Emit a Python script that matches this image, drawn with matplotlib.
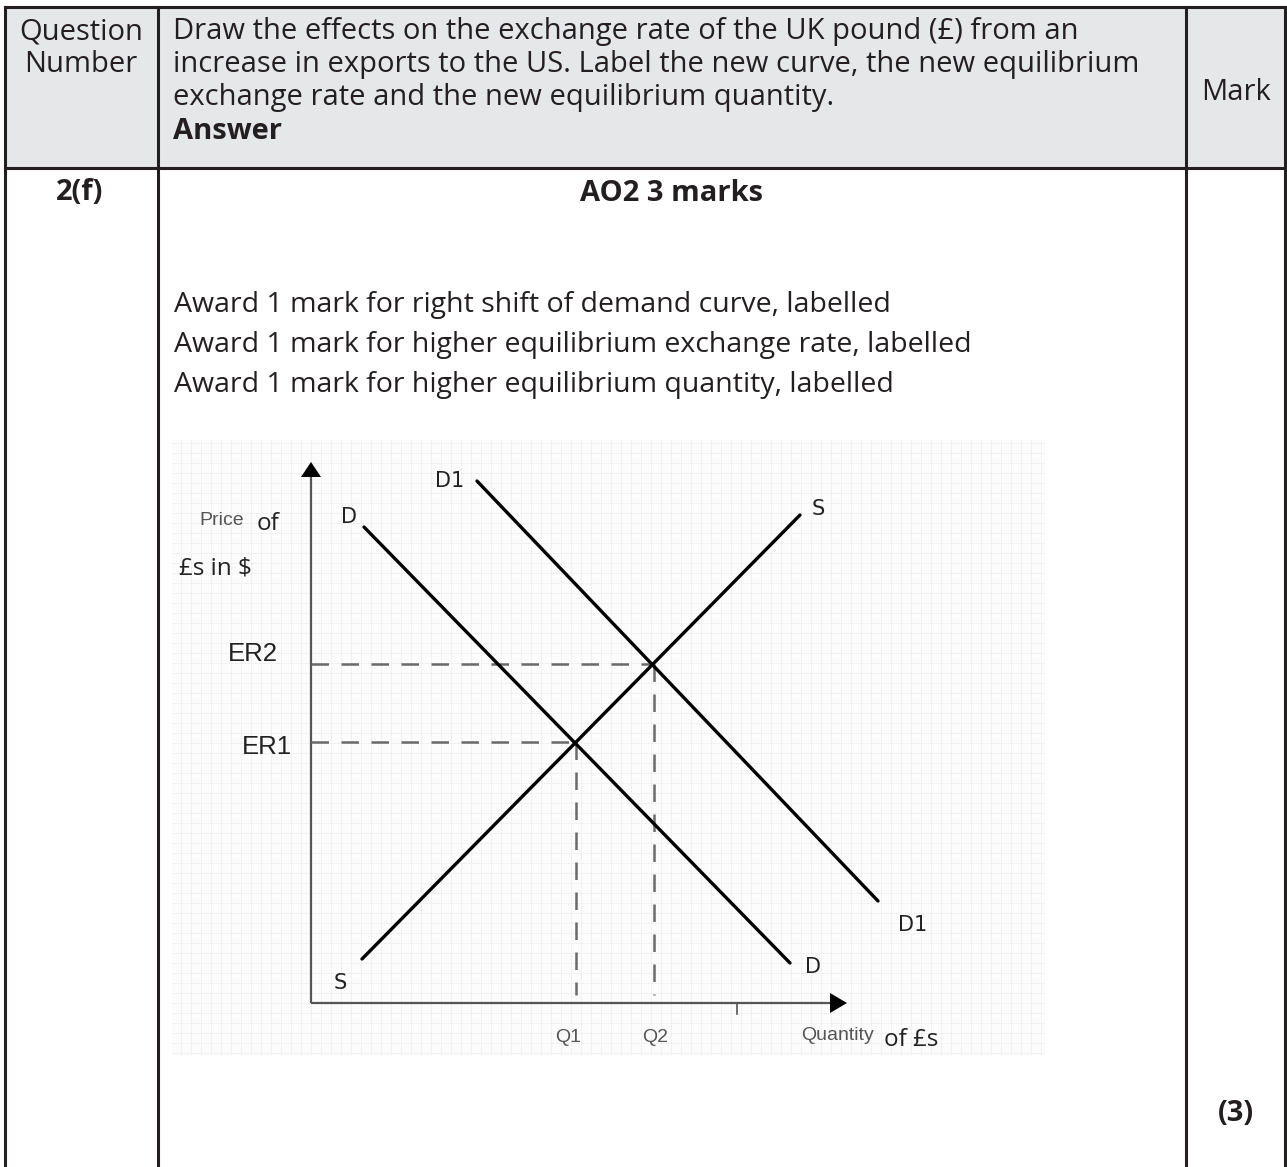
import matplotlib
matplotlib.use("Agg")
import matplotlib.pyplot as plt
import numpy as np

# ---------------- data ----------------
header_left = ["Question", "Number"]
header_text = ["Draw the effects on the exchange rate of the UK pound (£) from an",
               "increase in exports to the US. Label the new curve, the new equilibrium",
               "exchange rate and the new equilibrium quantity."]
header_answer = "Answer"
header_mark = "Mark"
question_no = "2(f)"
ao_title = "AO2 3 marks"
award_lines = ["Award 1 mark for right shift of demand curve, labelled",
               "Award 1 mark for higher equilibrium exchange rate, labelled",
               "Award 1 mark for higher equilibrium quantity, labelled"]
mark_value = "(3)"

# diagram values (quantity, price)
D_x = [5.3, 47.9]
D_y = [47.6, 4.0]
D1_x = [16.6, 56.7]
D1_y = [52.2, 10.2]
S_x = [5.1, 48.9]
S_y = [4.4, 48.8]
Q1, ER1 = 26.5, 26.1
Q2, ER2 = 34.3, 33.9
x_axis_end = 53.6
y_axis_end = 54.1
x_tick = 42.6

W, H = 1287, 1167
fig = plt.figure(figsize=(W / 100, H / 100), dpi=100)
fig.patch.set_facecolor("white")

# ---------------- table (pixel space) ----------------
ax = fig.add_axes([0, 0, 1, 1])
ax.set_xlim(0, W)
ax.set_ylim(H, 0)
ax.axis("off")

ink = "#231f20"
ax.add_patch(plt.Rectangle((5, 7), 1280, 161, facecolor="#e6e7e9", edgecolor="none", zorder=0))
lw = 2.2
ax.plot([5, 1285], [7, 7], color=ink, lw=lw)
ax.plot([5, 1285], [168, 168], color=ink, lw=lw)
for xv in [5, 158, 1186, 1285]:
    ax.plot([xv, xv], [7, H + 5], color=ink, lw=lw)

fam = ["Open Sans", "DejaVu Sans"]
hkw = dict(family=fam, color=ink, fontsize=21)
akw = dict(family=fam, color=ink, fontsize=20.5)
bkw = dict(family=fam, color=ink, fontsize=21, fontweight="bold")
for i, t in enumerate(header_left):
    ax.text(81, 39 + 33 * i, t, ha="center", va="baseline", **hkw)
for i, t in enumerate(header_text):
    ax.text(173, 39 + 33 * i, t, ha="left", va="baseline", **hkw)
ax.text(173, 139, header_answer, ha="left", va="baseline", **bkw)
ax.text(1236, 100, header_mark, ha="center", va="baseline", **hkw)
ax.text(80, 200, question_no, ha="center", va="baseline", **bkw)
ax.text(672, 201, ao_title, ha="center", va="baseline", **bkw)
for i, t in enumerate(award_lines):
    ax.text(174, 312 + 40 * i, t, ha="left", va="baseline", **akw)
ax.text(1236, 1121, mark_value, ha="center", va="baseline", **bkw)

# ---------------- diagram ----------------
ox, oy, sc = 311, 1003, 10.0
bx0, bx1, by0, by1 = 172, 1045, 440, 1055
def px2d(px, py):
    return (px - ox) / sc, (oy - py) / sc

dax = fig.add_axes([bx0 / W, (H - by1) / H, (bx1 - bx0) / W, (by1 - by0) / H])
x0, ytop = px2d(bx0, by0)
x1, ybot = px2d(bx1, by1)
dax.set_xlim(x0, x1)
dax.set_ylim(ybot, ytop)
dax.set_facecolor("#fcfcfc")
for s in dax.spines.values():
    s.set_visible(False)
dax.set_xticks(np.arange(np.ceil(x0), x1, 1.0))
dax.set_yticks(np.arange(np.ceil(ybot), ytop, 1.0))
dax.tick_params(length=0, labelbottom=False, labelleft=False)
dax.grid(True, color="#f0f0f0", lw=0.6)
dax.set_axisbelow(True)

axis_col = "#555555"
# axes
dax.plot([0, 0], [0, y_axis_end - 1.5], color=axis_col, lw=1.6, solid_capstyle="butt")
dax.plot([0, x_axis_end - 1.7], [0, 0], color=axis_col, lw=1.6, solid_capstyle="butt")
dax.fill([-1.0, 1.0, 0], [y_axis_end - 1.5, y_axis_end - 1.5, y_axis_end], color="black", lw=0)
dax.fill([x_axis_end - 1.7, x_axis_end - 1.7, x_axis_end], [1.0, -1.0, 0], color="black", lw=0)
dax.plot([x_tick, x_tick], [0, -1.1], color=axis_col, lw=1.2)

# dashed guides
dash = dict(color="#6a6a6a", lw=1.8, dashes=(7, 5))
dax.plot([0, Q1], [ER1, ER1], **dash)
dax.plot([Q1, Q1], [ER1, 0.8], **dash)
dax.plot([0, Q2], [ER2, ER2], **dash)
dax.plot([Q2, Q2], [ER2, 0.8], **dash)

# curves
dax.plot(D_x, D_y, color="black", lw=2.4, solid_capstyle="round")
dax.plot(D1_x, D1_y, color="black", lw=2.4, solid_capstyle="round")
dax.plot(S_x, S_y, color="black", lw=2.4, solid_capstyle="round")

lab_dj = dict(family="DejaVu Sans", color="#222222", fontsize=15, ha="center", va="center")
dax.text(*px2d(349, 517), "D", **lab_dj)
dax.text(*px2d(450, 481), "D1", **lab_dj)
dax.text(*px2d(818, 509), "S", **lab_dj)
dax.text(*px2d(340, 983), "S", **lab_dj)
dax.text(*px2d(813, 967), "D", **lab_dj)
dax.text(*px2d(913, 925), "D1", **lab_dj)

lab_ar = dict(family="Liberation Sans", color="#222222", fontsize=18.5, ha="center", va="center")
dax.text(*px2d(253, 654), "ER2", **lab_ar)
dax.text(*px2d(267, 747), "ER1", **lab_ar)

small = dict(family="Liberation Sans", color="#555555", fontsize=14, ha="center", va="center")
dax.text(*px2d(568, 1037), "Q1", **small)
dax.text(*px2d(655, 1037), "Q2", **small)
dax.text(*px2d(838, 1035), "Quantity", **small)
dax.text(*px2d(222, 521), "Price", **small)

ofs = dict(family=fam, color="#222222", fontsize=17.5, ha="center", va="center")
dax.text(*px2d(268, 524), "of", **ofs)
dax.text(*px2d(215, 569), "£s in $", **ofs)
dax.text(*px2d(911, 1040), "of £s", **ofs)

fig.savefig("out.png", dpi=100)
